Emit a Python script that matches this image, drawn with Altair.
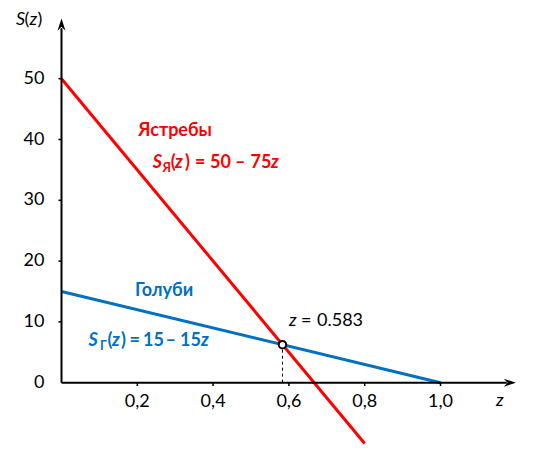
import altair as alt
import pandas as pd

# ---- data ----
hawk_z = [0.0, 0.8]
hawk_s = [50.0, -10.0]
dove_z = [0.0, 1.0]
dove_s = [15.0, 0.0]
eq_z = [0.583]
eq_s = [6.25]
x_ticks = [0.2, 0.4, 0.6, 0.8, 1.0]
x_tick_labels = ["0,2", "0,4", "0,6", "0,8", "1,0"]
y_ticks = [0, 10, 20, 30, 40, 50]
y_tick_labels = ["0", "10", "20", "30", "40", "50"]

RED = "#FF0000"
BLUE = "#0070C0"
FONT = "Lato"
FS = 18

# pixel <-> data helpers for annotation placement
ZX0, KX = 61.5, 379.0
SY0, KY = 382.7, 6.08
def zx(px):
    return (px - ZX0) / KX
def sy(py):
    return (SY0 - py) / KY

TOP = 18
XDOM = [zx(8), zx(528)]
YDOM = [sy(445), sy(TOP)]

def X(f="z"):
    return alt.X(f"{f}:Q", scale=alt.Scale(domain=XDOM, nice=False, zero=False), axis=None)
def Y(f="s"):
    return alt.Y(f"{f}:Q", scale=alt.Scale(domain=YDOM, nice=False, zero=False), axis=None)

lines_df = pd.DataFrame({
    "z": hawk_z + dove_z,
    "s": hawk_s + dove_s,
    "series": ["Ястребы"] * len(hawk_z) + ["Голуби"] * len(dove_z),
})
lines = alt.Chart(lines_df).mark_line(strokeWidth=3).encode(
    x=X(), y=Y(),
    color=alt.Color("series:N", scale=alt.Scale(domain=["Ястребы", "Голуби"], range=[RED, BLUE]), legend=None),
    detail="series:N",
)

# axes
axis_df = pd.DataFrame({"z": [0.0, 0.0], "z2": [1.175, 0.0], "s": [0.0, 0.0], "s2": [0.0, 58.3]})
axes = alt.Chart(axis_df).mark_rule(color="black", strokeWidth=2).encode(
    x=X(), x2="z2:Q", y=Y(), y2="s2:Q")

arrow_r = alt.Chart(pd.DataFrame({"z": [1.183], "s": [0.0]})).mark_point(
    shape="M1,0 L-1,-0.65 L-0.35,0 L-1,0.65 Z", size=150, filled=True, color="black", opacity=1
).encode(x=X(), y=Y())
arrow_u = alt.Chart(pd.DataFrame({"z": [0.0], "s": [58.9]})).mark_point(
    shape="M0,-1 L0.65,1 L0,0.35 L-0.65,1 Z", size=150, filled=True, color="black", opacity=1
).encode(x=X(), y=Y())

xt_df = pd.DataFrame({"z": x_ticks, "lab": x_tick_labels, "s": [0.0] * len(x_ticks), "s2": [-0.55] * len(x_ticks)})
xticks = alt.Chart(xt_df).mark_rule(color="black", strokeWidth=1.5).encode(x=X(), y=Y(), y2="s2:Q")
xlabels = alt.Chart(xt_df).mark_text(font=FONT, fontSize=FS, dy=19, baseline="middle", color="black").encode(
    x=X(), y=Y(), text="lab:N")

yt_df = pd.DataFrame({"s": y_ticks, "lab": y_tick_labels, "z": [0.0] * len(y_ticks), "z2": [-0.008] * len(y_ticks)})
yticks = alt.Chart(yt_df[yt_df["s"] > 0]).mark_rule(color="black", strokeWidth=1.5).encode(x=X(), x2="z2:Q", y=Y())
ylabels = alt.Chart(yt_df).mark_text(font=FONT, fontSize=FS, dx=-17, align="right", baseline="middle", color="black").encode(
    x=X(), y=Y(), text="lab:N")

# intersection
dash = alt.Chart(pd.DataFrame({"z": eq_z, "s": [0.0], "s2": eq_s})).mark_rule(
    color="black", strokeWidth=1, strokeDash=[3, 3]).encode(x=X(), y=Y(), y2="s2:Q")
eq_pt = alt.Chart(pd.DataFrame({"z": eq_z, "s": eq_s})).mark_point(
    shape="circle", size=55, filled=True, fill="white", stroke="black", strokeWidth=2, opacity=1
).encode(x=X(), y=Y())

# ---- text pieces: (text, px, py, color, weight, style, size) ----
SUB = 12.5
pieces = [
    # axis titles
    ("S", 16, 25, "black", "normal", "italic", FS),
    ("(", 24.5, 25, "black", "normal", "normal", FS),
    ("z", 29.5, 25, "black", "normal", "italic", FS),
    (")", 37.5, 25, "black", "normal", "normal", FS),
    ("z", 496, 406, "black", "normal", "italic", FS),
    # hawks
    ("Ястребы", 138.3, 135.7, RED, "bold", "normal", FS),
    ("S", 152.7, 168, RED, "bold", "italic", FS),
    ("Я", 162.5, 171.5, RED, "bold", "normal", SUB),
    ("(", 170.7, 168, RED, "bold", "normal", FS),
    ("z", 175, 168, RED, "bold", "italic", FS),
    (")", 185, 168, RED, "bold", "normal", FS),
    ("=", 195, 168, RED, "bold", "normal", FS),
    ("50", 210, 168, RED, "bold", "normal", FS),
    ("–", 235, 168, RED, "bold", "normal", FS),
    ("75", 250.5, 168, RED, "bold", "normal", FS),
    ("z", 271, 168, RED, "bold", "italic", FS),
    # doves
    ("Голуби", 135, 296, BLUE, "bold", "normal", FS),
    ("S", 88.5, 346, BLUE, "bold", "italic", FS),
    ("Г", 100, 349.5, BLUE, "bold", "normal", SUB),
    ("(", 107.5, 346, BLUE, "bold", "normal", FS),
    ("z", 112, 346, BLUE, "bold", "italic", FS),
    (")", 121, 346, BLUE, "bold", "normal", FS),
    ("=", 129.5, 346, BLUE, "bold", "normal", FS),
    ("15", 143, 346, BLUE, "bold", "normal", FS),
    ("–", 165.5, 346, BLUE, "bold", "normal", FS),
    ("15", 180, 346, BLUE, "bold", "normal", FS),
    ("z", 201, 346, BLUE, "bold", "italic", FS),
    # equilibrium label
    ("z", 289, 326, "black", "normal", "italic", FS),
    ("=", 301, 326, "black", "normal", "normal", FS),
    ("0.583", 317, 326, "black", "normal", "normal", FS),
]

text_layers = []
groups = {}
for t, px, py, col, w, st, sz in pieces:
    groups.setdefault((col, w, st, sz), []).append({"t": t, "z": zx(px), "s": sy(py)})
for (col, w, st, sz), rows in groups.items():
    text_layers.append(
        alt.Chart(pd.DataFrame(rows)).mark_text(
            font=FONT, fontSize=sz, fontWeight=w, fontStyle=st, color=col,
            align="left", baseline="alphabetic"
        ).encode(x=X(), y=Y(), text="t:N")
    )

chart = alt.layer(
    dash, lines, axes, arrow_r, arrow_u, xticks, yticks, xlabels, ylabels, eq_pt, *text_layers
).properties(
    width=520, height=445 - TOP,
    padding={"top": TOP - 8, "left": 0, "right": 0, "bottom": 0},
    autosize="none"
).configure_view(stroke=None)

chart.save("out.html", embed_options={"renderer": "svg", "actions": False})
